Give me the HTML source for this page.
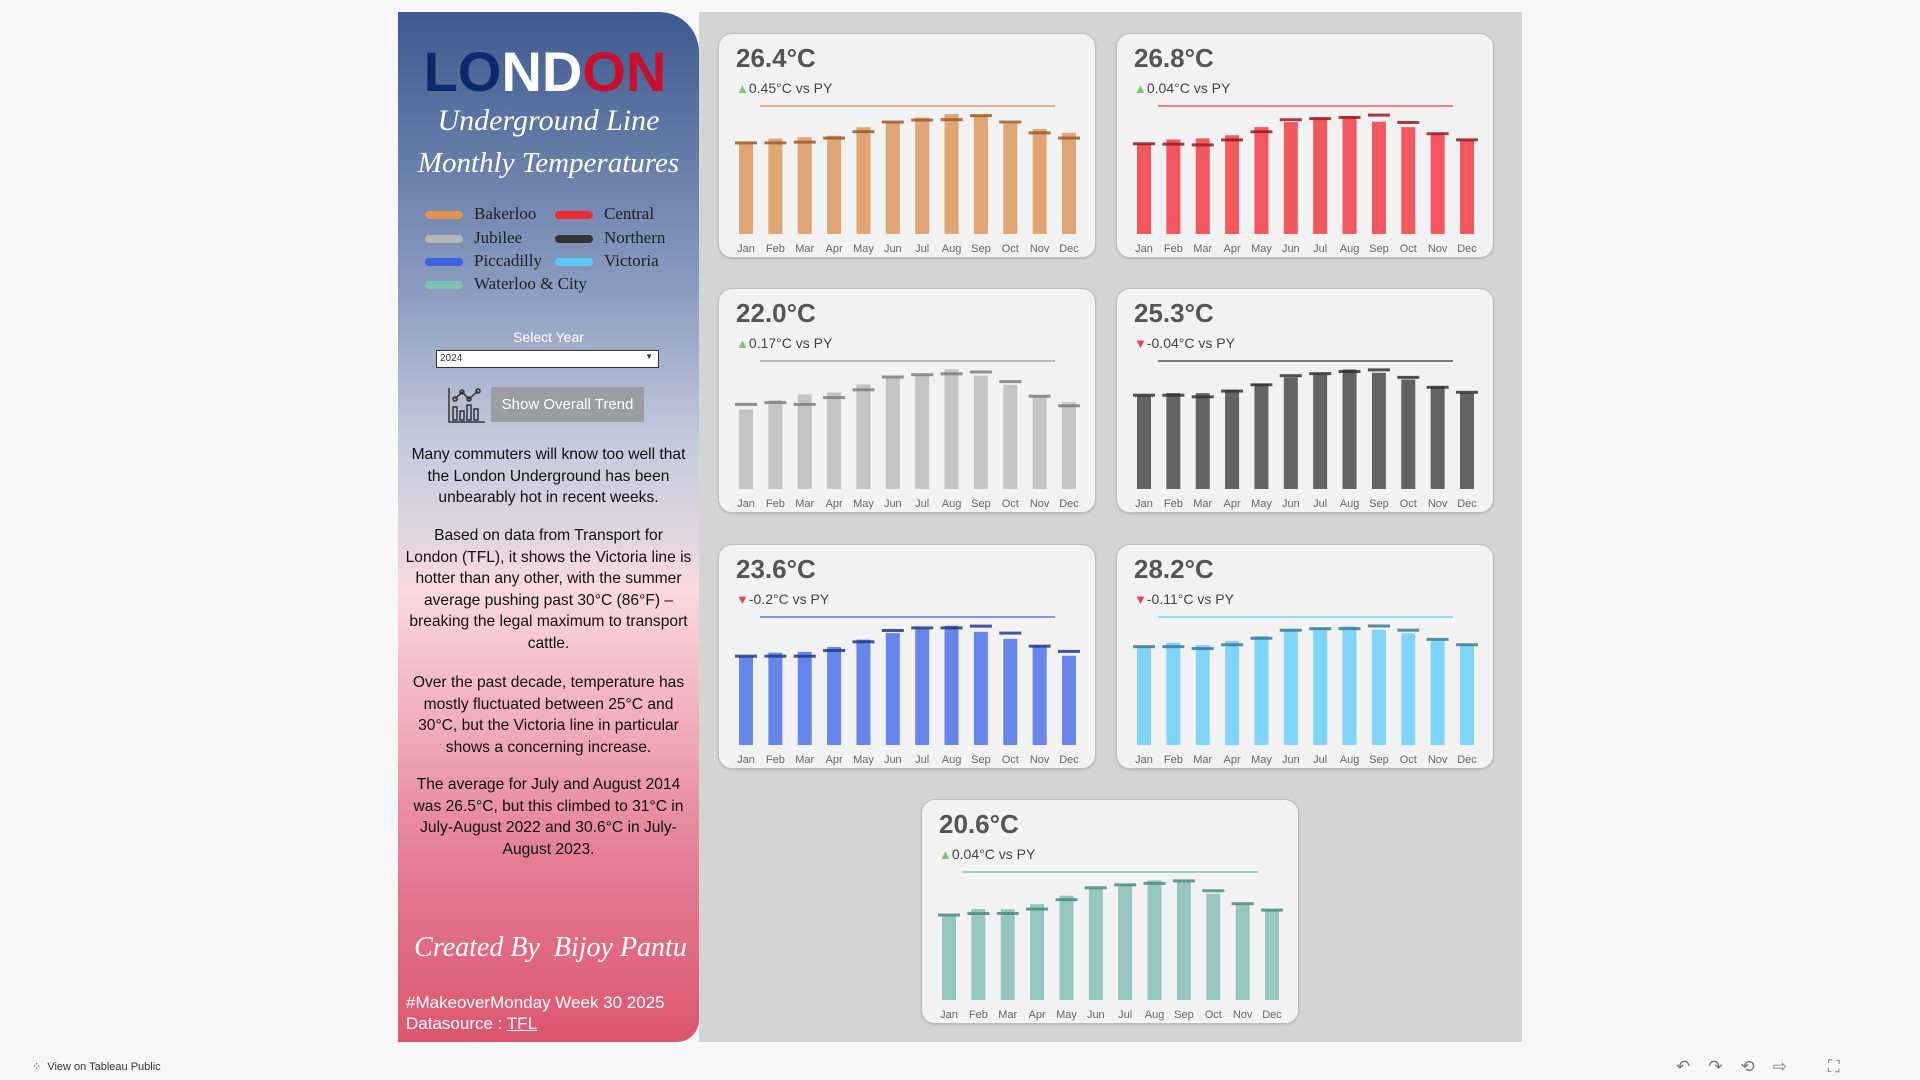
<!DOCTYPE html>
<html><head><meta charset="utf-8"><style>
*{margin:0;padding:0;box-sizing:border-box}
body{width:1920px;height:1080px;background:#f7f7f7;position:relative;overflow:hidden;font-family:"Liberation Sans",sans-serif}
#panel{position:absolute;left:398px;top:12px;width:301px;height:1030px;border-radius:0 40px 22px 0;background:linear-gradient(180deg,#3e5a8f 0%,#8b9cc0 27%,#c4cbdc 42%,#e4d6e0 52%,#fad9df 56%,#f0aab8 70%,#e47f93 82%,#dc5570 100%)}
#main{position:absolute;left:699px;top:12px;width:823px;height:1030px;background:#d4d4d4}
.abs{position:absolute}
.card{position:absolute;width:378px;height:225px;background:#f2f2f2;border:1px solid #bdbdbd;border-radius:14px;box-shadow:0 1px 2px rgba(0,0,0,.15)}
.kpi{position:absolute;left:17px;top:9px;font-size:26px;font-weight:bold;color:#555}
.sub{position:absolute;left:17px;top:46px;font-size:14px;color:#444}
.leg{position:absolute;font-family:"Liberation Serif",serif;font-size:17px;color:#222}
.sw{position:absolute;width:38px;height:8px;border-radius:4px}
.para{position:absolute;left:398px;width:301px;text-align:center;font-size:15.6px;line-height:21.5px;color:#111;white-space:nowrap}
.script{font-family:"Liberation Serif",serif;font-style:italic;color:#fff;white-space:nowrap}
</style></head><body>
<div id="panel"></div>
<div id="main"></div>

<div class="abs" style="left:420px;top:42px;width:250px;text-align:center;font-size:56px;font-weight:bold;letter-spacing:0px;font-family:'Liberation Sans',sans-serif;line-height:60px"><span style="color:#0b2a6b">LO</span><span style="color:#fff">ND</span><span style="color:#c8102e">ON</span></div>
<div class="abs script" style="left:398px;top:104px;width:301px;text-align:center;font-size:30px">Underground Line</div>
<div class="abs script" style="left:398px;top:147px;width:301px;text-align:center;font-size:29px">Monthly Temperatures</div>

<div class="sw" style="left:425px;top:211px;background:#e0924f"></div><div class="leg" style="left:474px;top:204px">Bakerloo</div>
<div class="sw" style="left:555px;top:211px;background:#ee2a34"></div><div class="leg" style="left:604px;top:204px">Central</div>
<div class="sw" style="left:425px;top:235px;background:#b5b5b5"></div><div class="leg" style="left:474px;top:228px">Jubilee</div>
<div class="sw" style="left:555px;top:235px;background:#333"></div><div class="leg" style="left:604px;top:228px">Northern</div>
<div class="sw" style="left:425px;top:258px;background:#3b62e0"></div><div class="leg" style="left:474px;top:251px">Piccadilly</div>
<div class="sw" style="left:555px;top:258px;background:#5ccaf7"></div><div class="leg" style="left:604px;top:251px">Victoria</div>
<div class="sw" style="left:425px;top:281px;background:#7cc2b4"></div><div class="leg" style="left:474px;top:274px">Waterloo &amp; City</div>

<div class="abs" style="left:398px;top:329px;width:301px;text-align:center;color:#fff;font-size:14px">Select Year</div>
<div class="abs" style="left:436px;top:350px;width:223px;height:18px;background:#fff;border:1px solid #333;font-size:10px;padding:2px 3px;color:#333">2024<span style="position:absolute;right:5px;top:1px;font-size:8px">▼</span></div>
<svg class="abs" style="left:448px;top:387px" width="38" height="36" viewBox="0 0 38 36"><g fill="none" stroke="#333" stroke-width="1.5"><path d="M1 1V35H37"/><rect x="5" y="20" width="4" height="13"/><rect x="12" y="24" width="4" height="9"/><rect x="19" y="18" width="4" height="15"/><rect x="26" y="22" width="4" height="11"/><path d="M7 12L14 5L21 12L30 4"/><circle cx="7" cy="12" r="2"/><circle cx="14" cy="5" r="2"/><circle cx="21" cy="12" r="2"/><circle cx="30" cy="4" r="2"/></g></svg>
<div class="abs" style="left:491px;top:387px;width:153px;height:35px;background:#9b9da3;color:#fff;font-size:15px;line-height:35px;text-align:center">Show Overall Trend</div>

<div class="para" style="top:444px">Many commuters will know too well that<br>the London Underground has been<br>unbearably hot in recent weeks.</div>
<div class="para" style="top:525px">Based on data from Transport for<br>London (TFL), it shows the Victoria line is<br>hotter than any other, with the summer<br>average pushing past 30°C (86°F) –<br>breaking the legal maximum to transport<br>cattle.</div>
<div class="para" style="top:672px">Over the past decade, temperature has<br>mostly fluctuated between 25°C and<br>30°C, but the Victoria line in particular<br>shows a concerning increase.</div>
<div class="para" style="top:774px">The average for July and August 2014<br>was 26.5°C, but this climbed to 31°C in<br>July-August 2022 and 30.6°C in July-<br>August 2023.</div>
<div class="abs script" style="left:402px;top:932px;width:297px;text-align:center;font-size:28px">Created By&nbsp; Bijoy Pantu</div>
<div class="abs" style="left:406px;top:993px;color:#fff;font-size:17px;white-space:nowrap">#MakeoverMonday Week 30 2025</div>
<div class="abs" style="left:406px;top:1014px;color:#fff;font-size:17px;white-space:nowrap">Datasource : <span style="text-decoration:underline">TFL</span></div>

<div class="abs" style="left:32px;top:1060px;font-size:11px;color:#333;white-space:nowrap">⁘ &nbsp;View on Tableau Public</div>
<div class="abs" style="left:1676px;top:1057px;font-size:17px;color:#777;white-space:nowrap;letter-spacing:18px">↶↷⟲⇨ ⛶</div>

<div id="cards"></div>
<script>
const months = ["Jan","Feb","Mar","Apr","May","Jun","Jul","Aug","Sep","Oct","Nov","Dec"];
const lineNames = ["Bakerloo","Central","Jubilee","Northern","Piccadilly","Victoria","Waterloo & City"];
const kpiLabels = ["26.4°C","26.8°C","22.0°C","25.3°C","23.6°C","28.2°C","20.6°C"];
const deltaLabels = ["0.45°C vs PY","0.04°C vs PY","0.17°C vs PY","-0.04°C vs PY","-0.2°C vs PY","-0.11°C vs PY","0.04°C vs PY"];
const deltaUp = [true,true,true,false,false,false,true];
const axisMax = [31.9,33.05,28.0,30.84,29.4,33.45,25.9];
const bakerloo = [22.7,23.8,24.1,24.5,26.6,27.9,29.0,29.9,29.4,27.5,26.2,25.2];
const bakerlooPY = [22.7,22.7,22.9,23.9,25.5,27.9,28.4,28.5,29.5,27.9,25.2,23.9];
const central = [23.3,24.4,24.7,25.5,27.6,28.9,29.9,30.4,29.0,27.6,25.9,24.4];
const centralPY = [23.3,23.2,23.0,24.3,26.4,29.5,29.8,30.1,30.7,28.8,25.9,24.3];
const jubilee = [17.4,19.4,20.7,21.1,22.9,24.5,25.0,26.2,24.8,22.8,20.3,19.0];
const jubileePY = [18.5,18.9,18.5,20.0,21.7,24.5,25.0,25.2,25.6,23.5,20.3,18.2];
const northern = [22.6,23.1,23.1,23.8,25.3,26.9,27.8,28.8,28.0,26.4,24.7,23.2];
const northernPY = [22.6,22.6,22.2,23.6,25.1,27.3,27.8,28.3,28.7,26.9,24.5,23.3];
const piccadilly = [20.4,21.2,21.4,22.5,24.2,25.7,26.8,27.4,26.0,24.4,22.7,20.5];
const piccadillyPY = [20.4,20.4,20.4,21.7,23.7,26.3,26.9,26.9,27.3,25.7,22.7,21.5];
const victoria = [25.7,26.7,26.1,27.2,28.5,30.0,30.4,31.0,30.1,29.2,27.3,26.1];
const victoriaPY = [25.7,25.7,25.2,26.2,27.9,30.0,30.4,30.4,31.1,30.0,27.6,26.2];
const waterloo = [17.1,18.4,18.4,19.4,21.1,22.5,23.2,24.2,24.1,21.5,19.3,18.1];
const waterlooPY = [17.2,17.5,17.5,18.4,20.3,22.7,23.3,23.6,24.1,22.1,19.5,18.2];

const series = [bakerloo,central,jubilee,northern,piccadilly,victoria,waterloo];
const seriesPY = [bakerlooPY,centralPY,jubileePY,northernPY,piccadillyPY,victoriaPY,waterlooPY];
const barColors = ["#e0a572","#f3585e","#c4c4c4","#636363","#6686eb","#7fd4fa","#95c7c0"];
const markColors = ["#9c5a2c","#9a1b22","#7f7f7f","#333333","#23398a","#3d7a93","#4f8a82"];
const refColors = ["#d98f55","#e8323c","#999999","#333333","#3b62e0","#5ccaf7","#6db9ad"];
const cardPos = [[718,33],[1116,33],[718,288],[1116,288],[718,544],[1116,544],[921,799]];

const NS="http://www.w3.org/2000/svg";
const container=document.getElementById('cards');
series.forEach((vals,i)=>{
  const card=document.createElement('div');
  card.className='card';
  card.style.left=cardPos[i][0]+'px';card.style.top=cardPos[i][1]+'px';
  
  
  const k=document.createElement('div');k.className='kpi';k.textContent=kpiLabels[i];
  
  
  card.appendChild(k);
  const s=document.createElement('div');s.className='sub';
  s.innerHTML='<span style="color:'+(deltaUp[i]?'#7cc46d':'#e0484f')+';font-size:13px">'+(deltaUp[i]?'▲':'▼')+'</span>'+deltaLabels[i];
  
  
  card.appendChild(s);
  const svg=document.createElementNS(NS,'svg');
  svg.setAttribute('width','378');svg.setAttribute('height','225');
  svg.style.position='absolute';svg.style.left='0';svg.style.top='0';
  
  
  const base=200, top=72;
  const y=v=>base-(v/axisMax[i])*(base-top);
  const x=j=>27+j*(323/11);
  const ref=document.createElementNS(NS,'line');
  ref.setAttribute('x1',41);ref.setAttribute('x2',336);ref.setAttribute('y1',y(axisMax[i]));ref.setAttribute('y2',y(axisMax[i]));
  ref.setAttribute('stroke',refColors[i]);ref.setAttribute('stroke-width','1.2');
  
  
  svg.appendChild(ref);
  vals.forEach((v,j)=>{
    const r=document.createElementNS(NS,'rect');
    r.setAttribute('x',x(j)-7);r.setAttribute('width',14);r.setAttribute('y',y(v));r.setAttribute('height',base-y(v));
    r.setAttribute('fill',barColors[i]);
    
    
    svg.appendChild(r);
    const m=document.createElementNS(NS,'rect');
    const py=seriesPY[i][j];
    m.setAttribute('x',x(j)-11);m.setAttribute('width',22);m.setAttribute('y',y(py)-1.5);m.setAttribute('height',3);
    m.setAttribute('fill',markColors[i]);m.setAttribute('opacity','0.85');
    
    
    svg.appendChild(m);
    const t=document.createElementNS(NS,'text');
    t.setAttribute('x',x(j));t.setAttribute('y',218);t.setAttribute('text-anchor','middle');
    t.setAttribute('font-size','11');t.setAttribute('fill','#666');t.setAttribute('font-family','Liberation Sans, sans-serif');
    t.textContent=months[j];
    
    
    svg.appendChild(t);
  });
  card.appendChild(svg);
  container.appendChild(card);
});
</script>
</body></html>
